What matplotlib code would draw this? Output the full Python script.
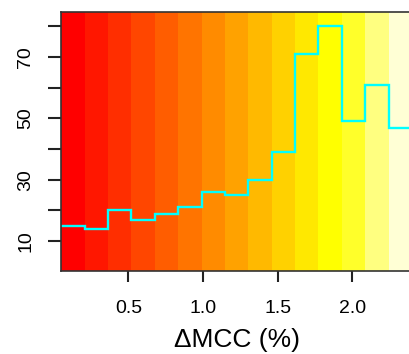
import colorsys
import numpy as np
import matplotlib
matplotlib.use("Agg")
import matplotlib.pyplot as plt

# bins of delta MCC (%) and the step values
bin_edges = np.linspace(0.05, 2.4, 16)
step_values = [15, 14, 20, 17, 19, 21, 26, 25, 30, 39, 71, 80, 49, 61, 47]
y_ticks = [10, 20, 30, 40, 50, 60, 70, 80]
y_labels = ["10", "", "30", "", "50", "", "70", ""]
x_ticks = [0.5, 1.0, 1.5, 2.0]
x_labels = ["0.5", "1.0", "1.5", "2.0"]


def heat_colors(n):
    # same recipe as R's heat.colors()
    j = n // 4
    i = n - j
    cols = [colorsys.hsv_to_rgb(h, 1, 1) for h in np.linspace(0, 1 / 6, i)]
    cols += [colorsys.hsv_to_rgb(1 / 6, s, 1)
             for s in np.linspace(1 - 1 / (2 * j), 1 / (2 * j), j)]
    return cols


plt.rcParams['font.family'] = ['Liberation Sans', 'DejaVu Sans']

fig = plt.figure(figsize=(4.09, 3.54), dpi=100)
ax = fig.add_axes([61.2 / 409, (354 - 271) / 354, (412 - 61.2) / 409, (271 - 12.3) / 354])

ymin, ymax = 0.3, 84.5
widths = np.diff(bin_edges)
ax.bar(bin_edges[:-1], ymax - ymin, width=widths, bottom=ymin, align='edge',
       color=heat_colors(len(step_values)), linewidth=0)
ax.stairs(step_values, bin_edges, color='#00ffff', linewidth=1.7, baseline=None)

ax.set_xlim(bin_edges[0], bin_edges[-1])
ax.set_ylim(ymin, ymax)

ax.set_xticks(x_ticks)
ax.set_xticklabels(x_labels)
ax.set_yticks(y_ticks)
ax.set_yticklabels(y_labels, rotation=90, va='center')

ax.tick_params(axis='both', labelsize=14, width=1.5, color='#222222')
ax.tick_params(axis='y', length=9.5, pad=10)
ax.tick_params(axis='x', length=8, pad=13)

for side in ax.spines.values():
    side.set_color('#333333')
    side.set_linewidth(1.2)

ax.set_xlabel("\u0394MCC (%)", fontsize=19, labelpad=8)

fig.savefig("out.png", dpi=100)
